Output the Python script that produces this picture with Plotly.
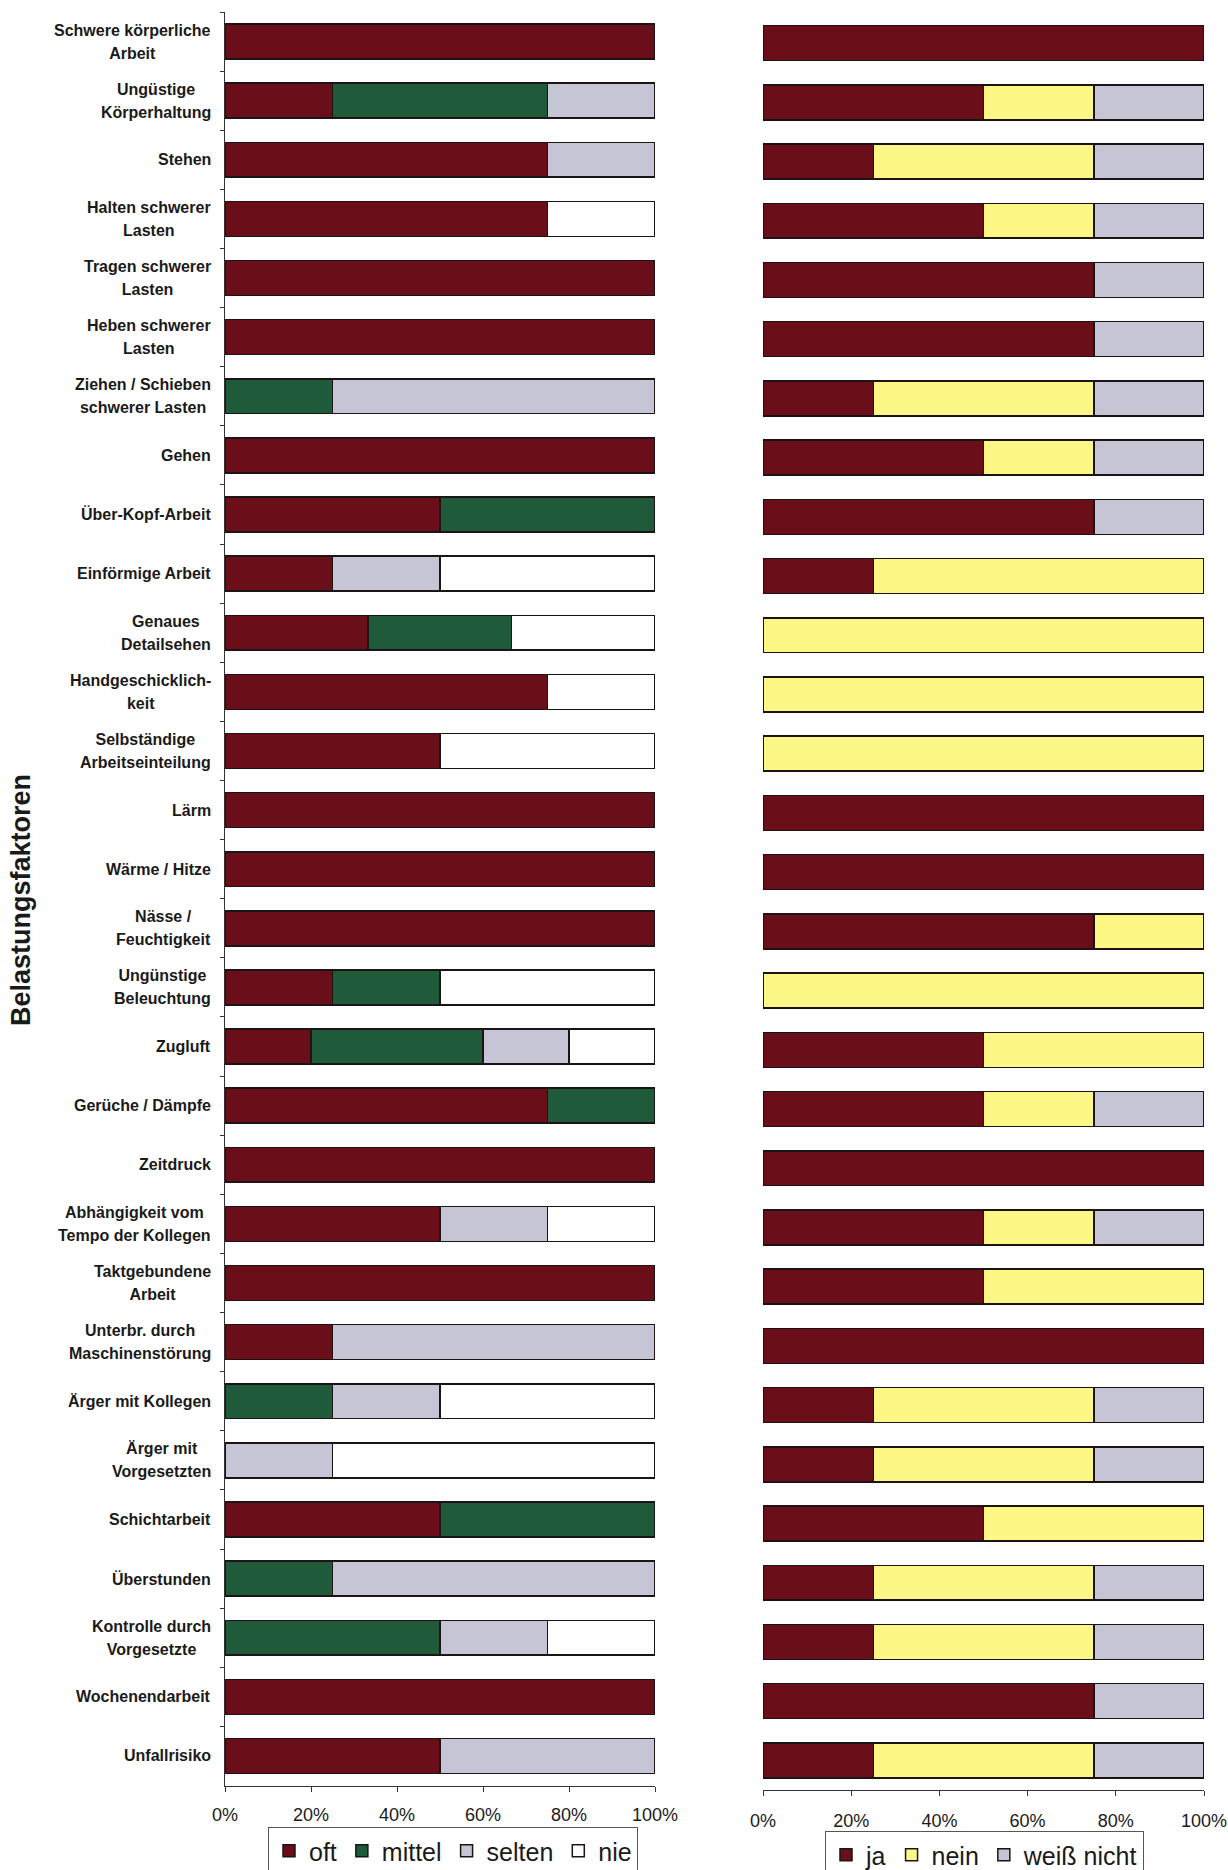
import plotly.graph_objects as go

# Belastungsfaktoren (top to bottom)
categories = [
    "Schwere körperliche<br>Arbeit",
    "Ungüstige<br>Körperhaltung",
    "Stehen",
    "Halten schwerer<br>Lasten",
    "Tragen schwerer<br>Lasten",
    "Heben schwerer<br>Lasten",
    "Ziehen / Schieben<br>schwerer Lasten",
    "Gehen",
    "Über-Kopf-Arbeit",
    "Einförmige Arbeit",
    "Genaues<br>Detailsehen",
    "Handgeschicklich-<br>keit",
    "Selbständige<br>Arbeitseinteilung",
    "Lärm",
    "Wärme / Hitze",
    "Nässe /<br>Feuchtigkeit",
    "Ungünstige<br>Beleuchtung",
    "Zugluft",
    "Gerüche / Dämpfe",
    "Zeitdruck",
    "Abhängigkeit vom<br>Tempo der Kollegen",
    "Taktgebundene<br>Arbeit",
    "Unterbr. durch<br>Maschinenstörung",
    "Ärger mit Kollegen",
    "Ärger mit<br>Vorgesetzten",
    "Schichtarbeit",
    "Überstunden",
    "Kontrolle durch<br>Vorgesetzte",
    "Wochenendarbeit",
    "Unfallrisiko",
]

# Häufigkeit der Belastung (%)
oft    = [100, 25, 75, 75, 100, 100, 0, 100, 50, 25, 33.3, 75, 50, 100, 100, 100, 25, 20, 75, 100, 50, 100, 25, 0, 0, 50, 0, 0, 100, 50]
mittel = [0, 50, 0, 0, 0, 0, 25, 0, 50, 0, 33.3, 0, 0, 0, 0, 0, 25, 40, 25, 0, 0, 0, 0, 25, 0, 50, 25, 50, 0, 0]
selten = [0, 25, 25, 0, 0, 0, 75, 0, 0, 25, 0, 0, 0, 0, 0, 0, 0, 20, 0, 0, 25, 0, 75, 25, 25, 0, 75, 25, 0, 50]
nie    = [0, 0, 0, 25, 0, 0, 0, 0, 0, 50, 33.4, 25, 50, 0, 0, 0, 50, 20, 0, 0, 25, 0, 0, 50, 75, 0, 0, 25, 0, 0]

# Belastung empfunden (%)
ja         = [100, 50, 25, 50, 75, 75, 25, 50, 75, 25, 0, 0, 0, 100, 100, 75, 0, 50, 50, 100, 50, 50, 100, 25, 25, 50, 25, 25, 75, 25]
nein       = [0, 25, 50, 25, 0, 0, 50, 25, 0, 75, 100, 100, 100, 0, 0, 25, 100, 50, 25, 0, 25, 50, 0, 50, 50, 50, 50, 50, 0, 50]
weiss_nich = [0, 25, 25, 25, 25, 25, 25, 25, 25, 0, 0, 0, 0, 0, 0, 0, 0, 0, 25, 0, 25, 0, 0, 25, 25, 0, 25, 25, 25, 25]

tick_values = [0, 20, 40, 60, 80, 100]
tick_labels = ["0%", "20%", "40%", "60%", "80%", "100%"]

FONT = "Liberation Sans, Arial, sans-serif"
TEXT = "#1a1a1a"
EDGE = "#1c1414"
RED = "#6a0f1a"
GREEN = "#1f5a3b"
GREY = "#c6c5d5"
WHITE = "#ffffff"
YELLOW = "#fdf886"

W, H = 1228, 1870

fig = go.Figure()

left_series = [("oft", oft, RED), ("mittel", mittel, GREEN), ("selten", selten, GREY), ("nie", nie, WHITE)]
right_series = [("ja", ja, RED), ("nein", nein, YELLOW), ("weiß nicht", weiss_nich, GREY)]

for name, vals, col in left_series:
    fig.add_trace(go.Bar(
        name=name, y=categories, x=[v if v else None for v in vals], orientation="h",
        marker=dict(color=col, line=dict(color=EDGE, width=1.5)),
        xaxis="x", yaxis="y", legend="legend", hoverinfo="x+y+name",
    ))

for name, vals, col in right_series:
    fig.add_trace(go.Bar(
        name=name, y=categories, x=[v if v else None for v in vals], orientation="h",
        marker=dict(color=col, line=dict(color=EDGE, width=1.5)),
        xaxis="x2", yaxis="y2", legend="legend2", hoverinfo="x+y+name",
    ))

# category labels, each line centred, block right-aligned against the axis
annotations = []
for cat in categories:
    lines = cat.split("<br>")
    txt = "<br>".join('<span style="font-size:16px">%s</span>' % ln for ln in lines)
    annotations.append(dict(
        xref="x domain", yref="y", x=0, y=cat, xanchor="right", yanchor="middle",
        xshift=-12, text=txt, showarrow=False, align="center",
        font=dict(family=FONT, size=18, color=TEXT, weight="bold"),
    ))

annotations.append(dict(
    xref="paper", yref="paper", x=21 / W, y=1 - 900 / H, xanchor="center", yanchor="middle",
    text="Belastungsfaktoren", textangle=-90, showarrow=False,
    font=dict(family=FONT, size=27, color=TEXT, weight="bold"),
))

xaxis_common = dict(
    range=[0, 100], tickmode="array", tickvals=tick_values, ticktext=tick_labels,
    showgrid=False, zeroline=False,
    showline=True, linecolor="#333333", linewidth=1, ticks="outside", ticklen=5,
    tickcolor="#333333", tickfont=dict(family=FONT, size=18, color=TEXT),
)

fig.update_layout(
    width=W, height=H,
    margin=dict(l=0, r=0, t=0, b=0, autoexpand=False),
    paper_bgcolor="white", plot_bgcolor="white",
    barmode="stack", bargap=0.41,
    font=dict(family=FONT, color=TEXT),
    xaxis=dict(domain=[225 / W, 655 / W], anchor="y", ticklabelstandoff=8, **xaxis_common),
    xaxis2=dict(domain=[763 / W, 1204 / W], anchor="y2", ticklabelstandoff=9, **xaxis_common),
    yaxis=dict(
        domain=[1 - 1785.5 / H, 1 - 12 / H], anchor="x", type="category",
        autorange="reversed", showline=True, linecolor="#333333", linewidth=1,
        ticks="outside", tickson="boundaries", ticklen=4, tickcolor="#333333",
        showticklabels=False, showgrid=False, zeroline=False,
    ),
    yaxis2=dict(
        domain=[1 - 1790 / H, 1 - 13.5 / H], anchor="x2", type="category",
        autorange="reversed", showline=False, ticks="", showticklabels=False,
        showgrid=False, zeroline=False,
    ),
    legend=dict(
        orientation="h", x=268 / W, y=1 - 1827 / H, xanchor="left", yanchor="top",
        bordercolor="#555555", borderwidth=1, bgcolor="white", traceorder="normal",
        font=dict(family=FONT, size=25, color=TEXT),
    ),
    legend2=dict(
        orientation="h", x=825 / W, y=1 - 1831 / H, xanchor="left", yanchor="top",
        bordercolor="#555555", borderwidth=1, bgcolor="white", traceorder="normal",
        font=dict(family=FONT, size=25, color=TEXT),
    ),
    annotations=annotations,
)

fig.write_html("out.html")
